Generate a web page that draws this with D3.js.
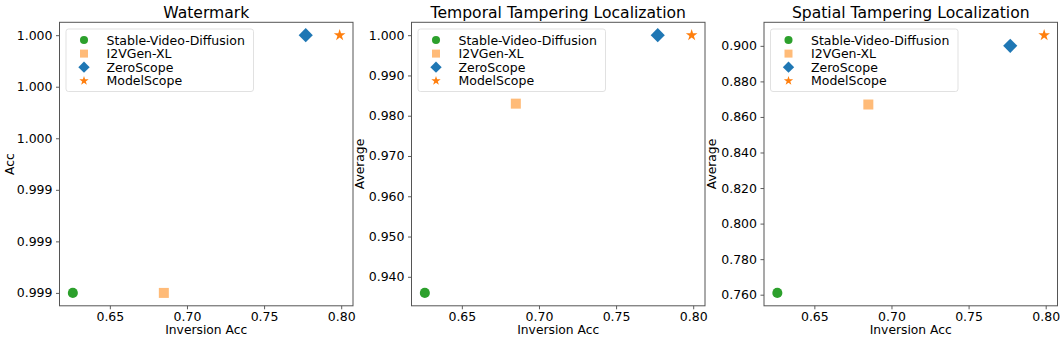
<!DOCTYPE html>
<html>
<head>
<meta charset="utf-8">
<script src="https://cdn.jsdelivr.net/npm/d3@7"></script>
<style>
  body { margin: 0; background: #fff; }
  svg text { font-family: "DejaVu Sans", sans-serif; fill: #000; }
</style>
</head>
<body>
<div id="chart"></div>
<script>

// models, shared by every panel
const models = ['Stable-Video-Diffusion', 'I2VGen-XL', 'ZeroScope', 'ModelScope']
const modelColors = ['#2ca02c', '#ffbb78', '#1f77b4', '#ff7f0e']
const inversionAcc = [0.626, 0.685, 0.777, 0.799]

// per-panel y values
const watermarkAcc = [0.9990, 0.9990, 1.0000, 1.0000]
const temporalAvg = [0.936, 0.983, 1.000, 1.000]
const spatialAvg = [0.761, 0.867, 0.900, 0.906]

const panelTitles = ['Watermark', 'Temporal Tampering Localization', 'Spatial Tampering Localization']
const yLabels = ['Acc', 'Average', 'Average']
const xTicks = [0.65, 0.70, 0.75, 0.80]
const watermarkTicks = [0.9990, 0.9992, 0.9994, 0.9996, 0.9998, 1.0000]
const temporalTicks = [0.940, 0.950, 0.960, 0.970, 0.980, 0.990, 1.000]
const spatialTicks = [0.760, 0.780, 0.800, 0.820, 0.840, 0.860, 0.880, 0.900]

let width = 1061,
    height = 340

let svg = d3.select('#chart').append('svg')
    .attr('width', width)
    .attr('height', height)

let panels = [
    {left: 59.5, ys: watermarkAcc, ticks: watermarkTicks, labelX: -45.5},
    {left: 411.5, ys: temporalAvg, ticks: temporalTicks, labelX: -47.7},
    {left: 764, ys: spatialAvg, ticks: spatialTicks, labelX: -47.6}
]

let plotW = 293.5,
    plotTop = 22.3,
    plotH = 283.5

// matplotlib-ish markers
function markerPath(i, scale){
    let s = scale || 1
    if(i == 0) return d3.symbol(d3.symbolCircle, 80 * s * s)()
    if(i == 1) return d3.symbol(d3.symbolSquare, 100 * s * s)()
    if(i == 2) return d3.symbol(d3.symbolSquare, 100 * s * s)()
    return d3.symbol(d3.symbolStar, 42 * s * s)()
}

function pad(ext){
    let r = ext[1] - ext[0]
    return [ext[0] - r * 0.05, ext[1] + r * 0.05]
}

panels.forEach(function(p, k){

    let g = svg.append('g')
        .attr('transform', 'translate(' + p.left + ',' + plotTop + ')')

    let xScale = d3.scaleLinear()
        .domain(pad(d3.extent(inversionAcc)))
        .range([0, plotW])

    let yScale = d3.scaleLinear()
        .domain(pad(d3.extent(p.ys)))
        .range([plotH, 0])

    g.append('g')
        .attr('transform', 'translate(0,' + plotH + ')')
        .call(d3.axisBottom(xScale).tickValues(xTicks).tickSize(3.5).tickPadding(2.5).tickFormat(d3.format('.2f')))

    g.append('g')
        .call(d3.axisLeft(yScale).tickValues(p.ticks).tickSize(3.5).tickPadding(3.5).tickFormat(d3.format('.3f')))

    g.selectAll('.domain').remove()
    g.selectAll('.tick line').attr('stroke', '#333').attr('stroke-width', 0.8)
    g.selectAll('.tick text')
        .style('font-family', '"DejaVu Sans", sans-serif')
        .attr('font-size', 12.5)
        .attr('fill', '#000')

    // frame
    g.append('rect')
        .attr('x', 0)
        .attr('y', 0)
        .attr('width', plotW)
        .attr('height', plotH)
        .attr('fill', 'none')
        .attr('stroke', '#555')
        .attr('stroke-width', 1)

    // points
    inversionAcc.forEach(function(xv, i){
        g.append('path')
            .attr('d', markerPath(i, 1))
            .attr('fill', modelColors[i])
            .attr('transform', 'translate(' + xScale(xv) + ',' + yScale(p.ys[i]) + ')' + (i == 2 ? ' rotate(45)' : ''))
    })

    // legend
    let legend = g.append('g').attr('transform', 'translate(6.5,6.7)')
    legend.append('rect')
        .attr('width', 187.5)
        .attr('height', 62.5)
        .attr('rx', 2.5)
        .attr('fill', '#fff')
        .attr('fill-opacity', 0.8)
        .attr('stroke', '#d9d9d9')
        .attr('stroke-width', 0.8)

    models.forEach(function(name, i){
        let ly = 11 + i * 13.6
        legend.append('path')
            .attr('d', markerPath(i, 0.8))
            .attr('fill', modelColors[i])
            .attr('transform', 'translate(18,' + ly + ')' + (i == 2 ? ' rotate(45)' : ''))
        legend.append('text')
            .attr('x', 40.5)
            .attr('y', ly + 4.5)
            .attr('font-size', 12.5)
            .text(name)
    })

    g.append('text')
        .attr('x', plotW / 2)
        .attr('y', -4)
        .attr('text-anchor', 'middle')
        .attr('font-size', 15.6)
        .text(panelTitles[k])

    g.append('text')
        .attr('x', plotW / 2)
        .attr('y', plotH + 28.5)
        .attr('text-anchor', 'middle')
        .attr('font-size', 12.3)
        .text('Inversion Acc')

    g.append('text')
        .attr('transform', 'translate(' + p.labelX + ',' + (plotH / 2) + ') rotate(-90)')
        .attr('text-anchor', 'middle')
        .attr('font-size', 12.3)
        .text(yLabels[k])
})

</script>
</body>
</html>
